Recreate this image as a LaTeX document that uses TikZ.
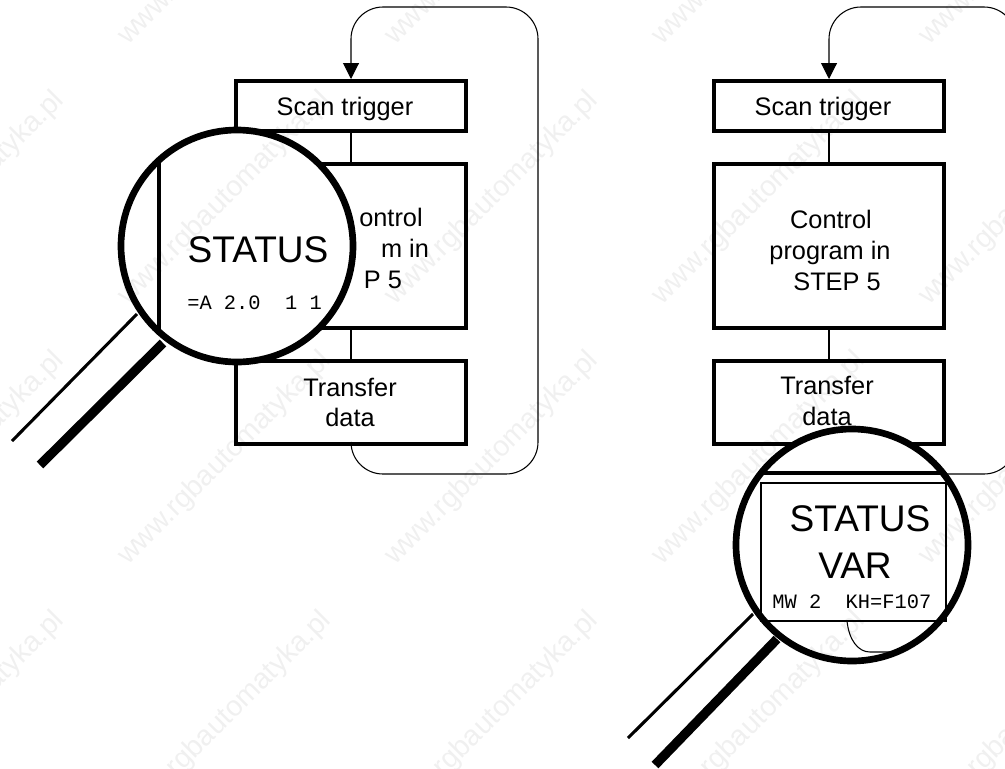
\documentclass[tikz,border=0pt]{standalone}
\usepackage{fontspec}
\setmainfont{Liberation Sans}
\newfontfamily\monof{Liberation Mono}
\usetikzlibrary{arrows.meta}
\tikzset{
  x=0.75pt,y=-0.75pt,
  box/.style={draw=black,line width=3pt,fill=white,inner sep=0pt,minimum width=230*0.75pt},
  lbl/.style={inner sep=0pt,font=\fontsize{19}{19}\selectfont,anchor=base},
  big/.style={inner sep=0pt,font=\fontsize{27.8}{27.8}\selectfont,anchor=base},
  mono/.style={inner sep=0pt,font=\monof\fontsize{15.3}{15.3}\selectfont,anchor=base west},
  thin link/.style={draw=black,line width=0.8pt},
  loop link/.style={thin link,rounded corners=24pt,-{Triangle[length=12pt,width=12pt]}},
  lens/.style={circle,draw=black,fill=white,line width=5pt,minimum size=232*0.75pt,inner sep=0pt},
  handle thin/.style={draw=black,line width=2.3pt},
  handle thick/.style={draw=black,line width=7pt},
  wmark/.style={inner sep=0pt,rotate=45,anchor=base west,text=black!6,font=\fontsize{21.5}{21.5}\selectfont},
}
\begin{document}
\begin{tikzpicture}
\useasboundingbox (0,0) rectangle (1005,768);
\clip (0,0) rectangle (1005,768);
% left
\node[box,minimum height=50*0.75pt] (scanL) at (351,106) {};
\node[box,minimum height=164*0.75pt] (ctrlL) at (351,246) {};
\node[box,minimum height=83*0.75pt] (tranL) at (351,402) {};
\draw[thin link] (scanL) -- (ctrlL);
\draw[thin link] (ctrlL) -- (tranL);
\coordinate (la) at (351,474);\coordinate (lb) at (538,474);\coordinate (lc) at (538,7);\coordinate (ld) at (351,7);
\draw[loop link] (tranL.south) -- (la) -- (lb) -- (lc) -- (ld) -- (scanL.north);
\node[lbl] (t1L) at (345,115) {Scan trigger};
\node[lbl] (t2L) at (391,226) {ontrol};
\node[lbl] (t3L) at (405,257) {m in};
\node[lbl] (t4L) at (383,288) {P 5};
\node[lbl] (t5L) at (350,396) {Transfer};
\node[lbl] (t6L) at (350,426) {data};
\coordinate (h1a) at (137,314);\coordinate (h1b) at (12,441);
\coordinate (h2a) at (163,343);\coordinate (h2b) at (40,465);
\draw[handle thin] (h1a) -- (h1b);
\draw[handle thick] (h2a) -- (h2b);
\node[lens] (magL) at (237,246) {};
\coordinate (ea) at (159,162);\coordinate (eb) at (159,331);
\draw[handle thin] (ea) -- (eb);
\node[big] (s1L) at (258,262) {STATUS};
\node[mono] (s2L) at (187,309) {=A 2.0\ \ 1 1};
% right
\node[box,minimum height=50*0.75pt] (scanR) at (829,106) {};
\node[box,minimum height=164*0.75pt] (ctrlR) at (829,246) {};
\node[box,minimum height=83*0.75pt] (tranR) at (829,402) {};
\draw[thin link] (scanR) -- (ctrlR);
\draw[thin link] (ctrlR) -- (tranR);
\coordinate (ra) at (829,474);\coordinate (rb) at (1016,474);\coordinate (rc) at (1016,7);\coordinate (rd) at (829,7);
\draw[loop link] (tranR.south) -- (ra) -- (rb) -- (rc) -- (rd) -- (scanR.north);
\node[lbl] (t1R) at (823,115) {Scan trigger};
\node[lbl] (t2R) at (831,228) {Control};
\node[lbl] (t3R) at (830,259) {program in};
\node[lbl] (t4R) at (837,290) {STEP 5};
\node[lbl] (t5R) at (827,394) {Transfer};
\node[lbl] (t6R) at (827,425) {data};
\coordinate (h3a) at (753,614);\coordinate (h3b) at (628,738);
\coordinate (h4a) at (777,639);\coordinate (h4b) at (655,765);
\draw[handle thin] (h3a) -- (h3b);
\draw[handle thick] (h4a) -- (h4b);
\node[lens] (magR) at (852,545) {};
\coordinate (fa) at (762,473);\coordinate (fb) at (946,473);
\draw[handle thin] (fa) -- (fb);
\node[draw=black,line width=0.9pt,minimum width=185*0.75pt,minimum height=138*0.75pt,inner sep=0pt] (inR) at (853.5,552) {};
\node[big] (s1R) at (860,531) {STATUS};
\node[big] (s2R) at (855,578) {VAR};
\node[mono] (s3R) at (772,608) {MW 2\ \ KH=F107};
\coordinate (ca) at (847,621);\coordinate (cb) at (892,652);
\draw[thin link] (ca) .. controls (849,640) and (858,652) .. (870,652) -- (cb);
% stamp repeated over the page
\begin{scope}[blend mode=multiply]
\foreach \wx in {-139,128,395,662,929}
  \foreach \wy in {46,306,566,826}
    \node[wmark] (wm\wx-\wy) at (\wx,\wy) {www.rgbautomatyka.pl};
\end{scope}
\end{tikzpicture}
\end{document}
